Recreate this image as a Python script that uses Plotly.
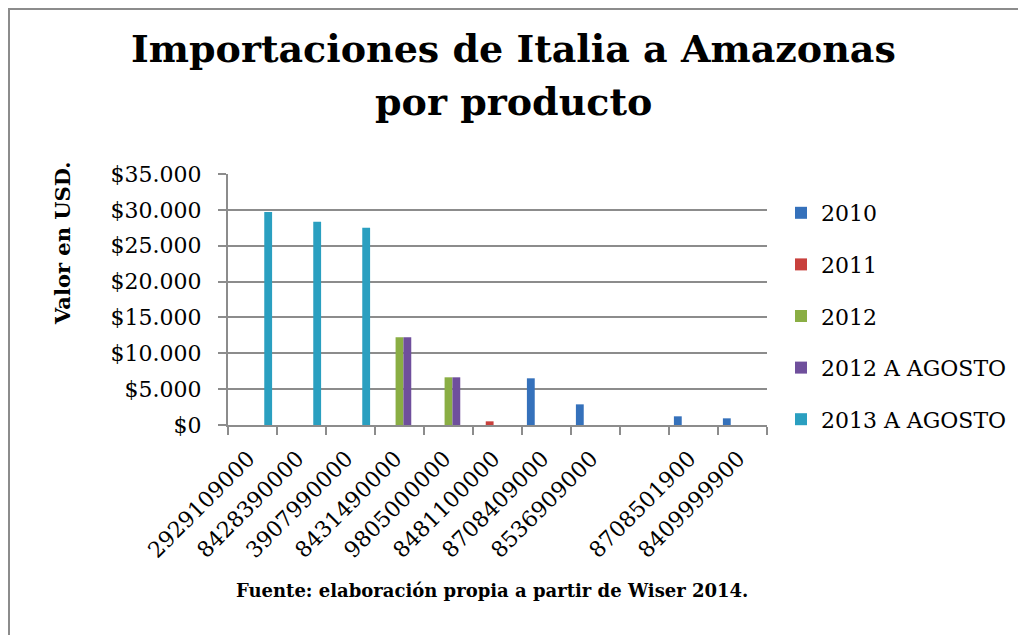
import plotly.graph_objects as go

# product codes (the 9th slot has no label in the source chart)
productos = ["2929109000", "8428390000", "3907990000", "8431490000", "9805000000",
             "8481100000", "8708409000", "8536909000", " ", "8708501900", "8409999900"]

v_2010 = [None, None, None, None, None, None, 6510, 2880, None, 1210, 930]
v_2011 = [None, None, None, None, None, 510, None, None, None, None, None]
v_2012 = [None, None, None, 12230, 6650, None, None, None, None, None, None]
v_2012_ago = [None, None, None, 12230, 6650, None, None, None, None, None, None]
v_2013_ago = [29700, 28330, 27490, None, None, None, None, None, None, None, None]

series = [
    ("2010", v_2010, "#3571bb"),
    ("2011", v_2011, "#c8403c"),
    ("2012", v_2012, "#8aae44"),
    ("2012 A AGOSTO", v_2012_ago, "#6f4f9c"),
    ("2013 A AGOSTO", v_2013_ago, "#2a9fc0"),
]

SERIF = "DejaVu Serif"
GRID = "#8c8c8c"

W, H = 1026, 635
OFF = 8  # page body margin shifts the figure
# plot area in screen pixels
L, R, T, B = 228, 767, 174, 425
def px(x):
    return (x - L) / (R - L)
def py(y):
    return (B - y) / (B - T)

fig = go.Figure()
for i, (name, vals, color) in enumerate(series):
    fig.add_trace(go.Bar(x=productos, y=vals, name=name, marker_color=color,
                         marker_line_width=0, legendgroup=str(i)))

fig.update_layout(
    width=W, height=H,
    barmode="group", bargap=0.2, bargroupgap=0,
    separators=",.",
    paper_bgcolor="white", plot_bgcolor="white",
    margin=dict(l=L - OFF, r=W - R + OFF, t=T - OFF, b=H - B + OFF, autoexpand=False),
    font=dict(family=SERIF, size=22, color="black"),
    legend=dict(xref="container", yref="container", x=(781 - OFF) / W, xanchor="left",
                y=1 - (192 - OFF) / H, yanchor="top",
                font=dict(family=SERIF, size=22), tracegroupgap=20,
                bgcolor="rgba(0,0,0,0)"),
    showlegend=True,
)

fig.update_xaxes(
    type="category", tickangle=-45, tickson="boundaries", automargin=False,
    ticks="outside", ticklen=8, tickcolor=GRID, tickwidth=2,
    showline=True, linecolor=GRID, linewidth=2, showgrid=False,
    tickfont=dict(family=SERIF, size=22), ticklabelstandoff=10, ticklabelshift=-4,
)
fig.update_yaxes(
    range=[0, 35000], dtick=5000, tickprefix="$", tickformat=",d", automargin=False,
    ticks="outside", ticklen=8, tickcolor=GRID, tickwidth=2,
    showline=True, linecolor=GRID, linewidth=2,
    showgrid=True, gridcolor=GRID, gridwidth=2,
    tickfont=dict(family=SERIF, size=22), ticklabelstandoff=12,
)

# title (two lines), y axis title and source note
for txt, yc in [("Importaciones de Italia a Amazonas", 48), ("por producto", 101)]:
    fig.add_annotation(text="<b>" + txt + "</b>", xref="paper", yref="paper",
                       x=px(513), y=py(yc), xanchor="center", yanchor="middle",
                       showarrow=False, font=dict(family=SERIF, size=38))
fig.add_annotation(text="<b>Valor en USD.</b>", textangle=-90, xref="paper", yref="paper",
                   x=px(62), y=py(243), xanchor="center", yanchor="middle",
                   showarrow=False, font=dict(family=SERIF, size=21))
fig.add_annotation(text="<b>Fuente: elaboración propia a partir de Wiser 2014.</b>",
                   xref="paper", yref="paper", x=px(492), y=py(590),
                   xanchor="center", yanchor="middle",
                   showarrow=False, font=dict(family=SERIF, size=18))

# chart frame (left edge kept just inside the figure)
fig.add_shape(type="rect", xref="paper", yref="paper",
              x0=px(OFF + 1), x1=px(1060), y0=py(680), y1=py(9),
              line=dict(color=GRID, width=2), layer="below")

fig.write_html("out.html")
